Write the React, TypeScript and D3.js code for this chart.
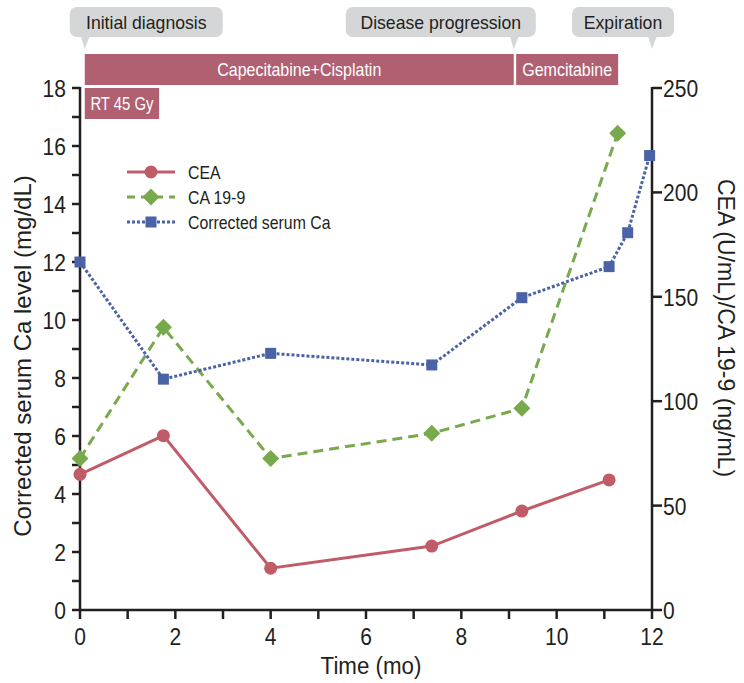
import React from "react";
import * as d3 from "d3";

// ---------- data ----------
const caTimes = [0, 1.75, 4, 7.38, 9.27, 11.1, 11.49, 11.95];
const caValues = [12.0, 7.96, 8.85, 8.45, 10.77, 11.84, 13.01, 15.67];

const ceaTimes = [0, 1.75, 4, 7.38, 9.27, 11.1];
const ceaValues = [65, 83.5, 20, 30.6, 47.4, 62.3];

const ca199Times = [0, 1.75, 4, 7.38, 9.27, 11.28];
const ca199Values = [72.6, 135.4, 72.6, 84.6, 96.6, 228.3];

const xTicks = [0, 1, 2, 3, 4, 5, 6, 7, 8, 9, 10, 11, 12];
const xTickLabels = [0, 2, 4, 6, 8, 10, 12];
const leftTicks = [0, 1, 2, 3, 4, 5, 6, 7, 8, 9, 10, 11, 12, 13, 14, 15, 16, 17, 18];
const leftTickLabels = [0, 2, 4, 6, 8, 10, 12, 14, 16, 18];
const rightTicks = [0, 50, 100, 150, 200, 250];

const treatmentNames = ["Capecitabine+Cisplatin", "Gemcitabine", "RT 45 Gy"];
const treatmentStarts = [0.1, 9.15, 0.1];
const treatmentEnds = [9.1, 11.29, 1.66];
const treatmentRows = [0, 0, 1];

const eventNames = ["Initial diagnosis", "Disease progression", "Expiration"];
const eventTimes = [0.1, 9.1, 12];

const seriesNames = ["CEA", "CA 19-9", "Corrected serum Ca"];

// ---------- style / layout ----------
const W = 744;
const H = 683;
const PL = 80, PR = 652, PT = 88, PB = 610;
const FONT = "'Liberation Sans', Arial, sans-serif";
const AXIS = "#231f20";
const TEXT = "#231f20";
const RED = "#c05c68";
const GREEN = "#78a94c";
const BLUE = "#4a63a6";
const BAR = "#b06070";
const BOX = "#d5d6d8";
const eventBoxWidths = [153, 190, 102];
const eventBoxAnchors = ["left", "right", "right"];

type TProps = {
  x: number;
  y: number;
  size: number;
  sx?: number;
  anchor?: "start" | "middle" | "end";
  rotate?: number;
  fill?: string;
  children: React.ReactNode;
};

function T({ x, y, size, sx = 1, anchor = "start", rotate = 0, fill = TEXT, children }: TProps) {
  return (
    <text
      transform={`translate(${x},${y}) rotate(${rotate}) scale(${sx},1)`}
      fontSize={size}
      textAnchor={anchor}
      fill={fill}
    >
      {children}
    </text>
  );
}

export default function App() {
  const x = d3.scaleLinear().domain([0, 12]).range([PL, PR]);
  const yL = d3.scaleLinear().domain([0, 18]).range([PB, PT]);
  const yR = d3.scaleLinear().domain([0, 250]).range([PB, PT]);

  const line = d3.line<[number, number]>().x((d) => d[0]).y((d) => d[1]);

  const caPts: [number, number][] = caTimes.map((t, i) => [x(t), yL(caValues[i])]);
  const ceaPts: [number, number][] = ceaTimes.map((t, i) => [x(t), yR(ceaValues[i])]);
  const ca199Pts: [number, number][] = ca199Times.map((t, i) => [x(t), yR(ca199Values[i])]);

  const diamond = (cx: number, cy: number, r: number) =>
    `M${cx},${cy - r}L${cx + r},${cy}L${cx},${cy + r}L${cx - r},${cy}Z`;

  const rowY = [54, 88];
  const rowH = 31;

  const legendY = [172, 197, 222];
  const legendX0 = 127, legendX1 = 175, legendMX = 151, legendTX = 188;

  return (
    <svg
      width={W}
      height={H}
      style={{ position: "absolute", left: 0, top: 0, background: "#fff" }}
      fontFamily={FONT}
    >
      {/* event callouts */}
      {eventNames.map((name, i) => {
        const px = x(eventTimes[i]);
        const w = eventBoxWidths[i];
        const left = eventBoxAnchors[i] === "left" ? px - 15 : px + 22 - w;
        return (
          <g key={name}>
            <rect x={left} y={7} width={w} height={30} rx={7} fill={BOX} />
            <path d={`M${px - 4},36L${px + 5},36L${px},49Z`} fill={BOX} />
            <T x={left + w / 2} y={28.5} size={18} sx={0.98} anchor="middle">
              {name}
            </T>
          </g>
        );
      })}

      {/* treatment bars */}
      {treatmentNames.map((name, i) => {
        const x0 = x(treatmentStarts[i]);
        const x1 = x(treatmentEnds[i]);
        const y0 = rowY[treatmentRows[i]];
        const isRow1 = treatmentRows[i] === 1;
        return (
          <g key={name}>
            <rect x={x0} y={y0} width={x1 - x0} height={rowH} fill={BAR} />
            <T
              x={(x0 + x1) / 2}
              y={y0 + 22}
              size={isRow1 ? 17.5 : 18}
              sx={isRow1 ? 0.85 : 0.89}
              anchor="middle"
              fill="#fff"
            >
              {name}
            </T>
          </g>
        );
      })}

      {/* axes */}
      <g stroke={AXIS} strokeWidth={2.5} fill="none">
        <line x1={PL} y1={PT - 1} x2={PL} y2={PB + 1} />
        <line x1={PR} y1={PT - 1} x2={PR} y2={PB + 1} />
        <line x1={PL} y1={PB} x2={PR} y2={PB} />
        {leftTicks.map((t) => (
          <line key={"lt" + t} x1={PL - 8} x2={PL} y1={yL(t)} y2={yL(t)} />
        ))}
        {rightTicks.map((t) => (
          <line key={"rt" + t} x1={PR} x2={PR + 10} y1={yR(t)} y2={yR(t)} />
        ))}
        {xTicks.map((t) => (
          <line key={"xt" + t} x1={x(t)} x2={x(t)} y1={PB} y2={PB + 9} />
        ))}
      </g>
      {leftTickLabels.map((t) => (
        <T key={"ll" + t} x={PL - 14} y={yL(t) + 9} size={24.5} sx={0.86} anchor="end">
          {t}
        </T>
      ))}
      {rightTicks.map((t) => (
        <T key={"rl" + t} x={PR + 11} y={yR(t) + 9} size={24.5} sx={0.86}>
          {t}
        </T>
      ))}
      {xTickLabels.map((t) => (
        <T key={"xl" + t} x={x(t)} y={PB + 35} size={24.5} sx={0.86} anchor="middle">
          {t}
        </T>
      ))}

      <T x={(PL + PR) / 2 + 5} y={674} size={24} sx={0.93} anchor="middle">
        Time (mo)
      </T>
      <T x={31} y={356} size={24} sx={1.0} anchor="middle" rotate={-90}>
        Corrected serum Ca level (mg/dL)
      </T>
      <T x={718} y={328} size={24} sx={0.96} anchor="middle" rotate={90}>
        CEA (U/mL)/CA 19-9 (ng/mL)
      </T>

      {/* series lines */}
      <path d={line(ceaPts) || ""} fill="none" stroke={RED} strokeWidth={3} />
      <path d={line(ca199Pts) || ""} fill="none" stroke={GREEN} strokeWidth={3} strokeDasharray="10,6" />
      <path d={line(caPts) || ""} fill="none" stroke={BLUE} strokeWidth={3} strokeDasharray="3,2" />

      {/* markers */}
      {ceaPts.map((p, i) => (
        <circle key={"cm" + i} cx={p[0]} cy={p[1]} r={6.5} fill={RED} />
      ))}
      {ca199Pts.map((p, i) => (
        <path key={"dm" + i} d={diamond(p[0], p[1], 8.5)} fill={GREEN} />
      ))}
      {caPts.map((p, i) => (
        <rect key={"sm" + i} x={p[0] - 5.5} y={p[1] - 5.5} width={11} height={11} fill={BLUE} />
      ))}

      {/* legend */}
      <g>
        <line x1={legendX0} x2={legendX1} y1={legendY[0]} y2={legendY[0]} stroke={RED} strokeWidth={3} />
        <circle cx={legendMX} cy={legendY[0]} r={6.5} fill={RED} />
        <line x1={legendX0} x2={legendX1} y1={legendY[1]} y2={legendY[1]} stroke={GREEN} strokeWidth={3} strokeDasharray="8,6" />
        <path d={diamond(legendMX, legendY[1], 8.5)} fill={GREEN} />
        <line x1={legendX0} x2={legendX1} y1={legendY[2]} y2={legendY[2]} stroke={BLUE} strokeWidth={3} strokeDasharray="3,2" />
        <rect x={legendMX - 5.5} y={legendY[2] - 5.5} width={11} height={11} fill={BLUE} />
        {seriesNames.map((n, i) => (
          <T key={n} x={legendTX} y={legendY[i] + 6.5} size={18} sx={0.88}>
            {n}
          </T>
        ))}
      </g>
    </svg>
  );
}
